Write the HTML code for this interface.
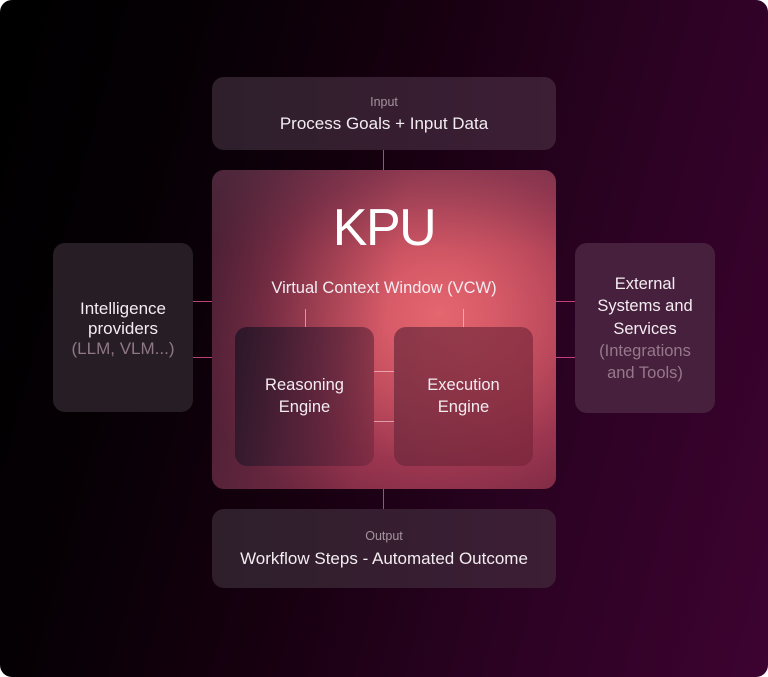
<!DOCTYPE html>
<html><head><meta charset="utf-8"><style>
html,body{margin:0;padding:0;background:#fff;}
body{width:768px;height:677px;position:relative;overflow:hidden;font-family:"Liberation Sans",sans-serif;}
#bg{position:absolute;left:0;top:0;width:768px;height:677px;border-radius:12px;
background:linear-gradient(105deg,#000 0%,#050004 20%,#16000f 45%,#2c0223 72%,#3d0331 100%);}
.box{position:absolute;border-radius:12px;box-sizing:border-box;text-align:center;color:#f3ecf1;}
.ln{position:absolute;background:#c0407c;}
.wl{position:absolute;background:rgba(255,215,225,0.6);}
.lbl{color:#a3949f;font-size:12.5px;}
.gray{color:#8f7886;}
</style></head><body>
<div id="bg"></div>

<!-- connectors -->
<div class="ln" style="left:383px;top:149px;width:1px;height:22px;"></div>
<div class="ln" style="left:383px;top:488px;width:1px;height:22px;"></div>
<div class="ln" style="left:193px;top:301px;width:20px;height:1px;"></div>
<div class="ln" style="left:193px;top:357px;width:20px;height:1px;"></div>
<div class="ln" style="left:555px;top:301px;width:21px;height:1px;"></div>
<div class="ln" style="left:555px;top:357px;width:21px;height:1px;"></div>

<!-- Input -->
<div class="box" style="left:212px;top:77px;width:344px;height:73px;background:linear-gradient(90deg,#2e1f2b,#3d1e35);">
  <div class="lbl" style="position:absolute;left:0;right:0;top:18px;">Input</div>
  <div style="position:absolute;left:0;right:0;top:37px;font-size:17px;">Process Goals + Input Data</div>
</div>

<!-- KPU -->
<div class="box" style="left:212px;top:170px;width:344px;height:319px;overflow:hidden;
background:radial-gradient(ellipse 75% 70% at 66% 45%,#e4666f 0%,#d65a67 22%,#bc4a5c 45%,#9c3650 68%,#842d47 88%,#762a43 100%);">
  <div style="position:absolute;inset:0;background:linear-gradient(100deg,rgba(50,26,44,0.7) 0%,rgba(50,26,44,0.25) 28%,rgba(0,0,0,0) 50%);"></div>
  <div style="position:absolute;inset:0;background:linear-gradient(180deg,rgba(90,60,80,0.25) 0%,rgba(0,0,0,0) 25%);"></div>
  <div style="position:absolute;left:0;right:0;top:28px;font-size:52px;line-height:60px;letter-spacing:-1.5px;color:#fff;">KPU</div>
  <div style="position:absolute;left:0;right:0;top:109px;font-size:16.5px;">Virtual Context Window (VCW)</div>
  <div class="wl" style="left:93px;top:139px;width:1px;height:18px;"></div>
  <div class="wl" style="left:251px;top:139px;width:1px;height:18px;"></div>
  <div class="wl" style="left:162px;top:201px;width:20px;height:1px;"></div>
  <div class="wl" style="left:162px;top:251px;width:20px;height:1px;"></div>
  <div class="box" style="left:23px;top:157px;width:139px;height:139px;background:linear-gradient(100deg,rgba(40,22,40,0.95) 0%,rgba(70,30,52,0.8) 45%,rgba(110,38,60,0.55) 100%);">
    <div style="position:absolute;left:0;right:0;top:47px;font-size:16.5px;line-height:22px;">Reasoning<br>Engine</div>
  </div>
  <div class="box" style="left:182px;top:157px;width:139px;height:139px;background:linear-gradient(100deg,rgba(105,40,60,0.7),rgba(115,34,54,0.6));">
    <div style="position:absolute;left:0;right:0;top:47px;font-size:16.5px;line-height:22px;">Execution<br>Engine</div>
  </div>
</div>

<!-- Left -->
<div class="box" style="left:53px;top:243px;width:140px;height:169px;background:#271d25;">
  <div style="position:absolute;left:0;right:0;top:56px;font-size:17px;line-height:20px;">Intelligence<br>providers<br><span class="gray">(LLM, VLM...)</span></div>
</div>

<!-- Right -->
<div class="box" style="left:575px;top:243px;width:140px;height:170px;background:#47203d;">
  <div style="position:absolute;left:0;right:0;top:30px;font-size:16.5px;line-height:22.3px;">External<br>Systems and<br>Services<br><span class="gray" style="color:#96788a;">(Integrations<br>and Tools)</span></div>
</div>

<!-- Output -->
<div class="box" style="left:212px;top:509px;width:344px;height:79px;background:linear-gradient(90deg,#2e1f2b,#3d1e35);">
  <div class="lbl" style="position:absolute;left:0;right:0;top:20px;">Output</div>
  <div style="position:absolute;left:0;right:0;top:40px;font-size:17px;">Workflow Steps - Automated Outcome</div>
</div>
</body></html>
